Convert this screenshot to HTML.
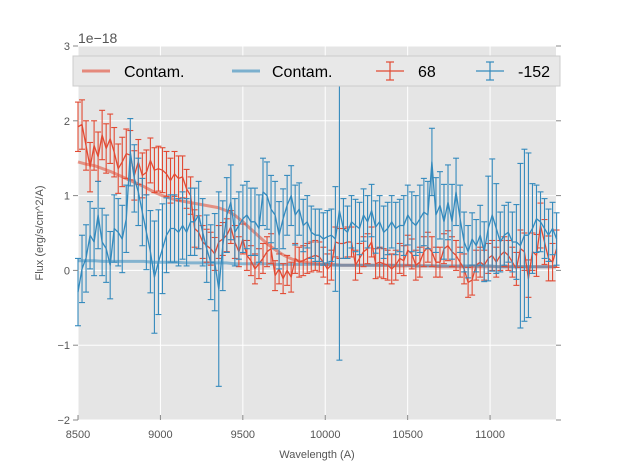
<!DOCTYPE html>
<html><head><meta charset="utf-8"><style>
body{margin:0;background:#fff;width:617px;height:467px;overflow:hidden;font-family:"Liberation Sans",sans-serif}
</style></head><body>
<svg id="chart" width="617" height="467" xmlns="http://www.w3.org/2000/svg">
<rect x="78" y="46" width="478" height="374" fill="#e5e5e5"/>
<g id="grid"></g><g id="marks"></g><g id="axes"></g>
<text x="78" y="43" font-size="14" fill="#555">1e−18</text>
<text x="317" y="458" font-size="11" fill="#555" text-anchor="middle">Wavelength (A)</text>
<text transform="translate(43,233) rotate(-90)" font-size="11" fill="#555" text-anchor="middle">Flux (erg/s/cm^2/A)</text>
<g>
<rect x="73" y="56" width="487" height="30" fill="#e8e8e8" stroke="#ccc"/>
<line x1="82" y1="71" x2="110" y2="71" stroke="#E24A33" stroke-opacity="0.6" stroke-width="3"/>
<text x="124" y="77" font-size="16" fill="#000">Contam.</text>
<line x1="232" y1="71" x2="260" y2="71" stroke="#348ABD" stroke-opacity="0.6" stroke-width="3"/>
<text x="272" y="77" font-size="16" fill="#000">Contam.</text>
<g stroke="#E24A33" stroke-width="1.2"><line x1="376" y1="71" x2="404" y2="71"/><line x1="390" y1="62" x2="390" y2="80"/><line x1="386" y1="62" x2="394" y2="62"/><line x1="386" y1="80" x2="394" y2="80"/></g>
<text x="418" y="77" font-size="16" fill="#000">68</text>
<g stroke="#348ABD" stroke-width="1.2"><line x1="476" y1="71" x2="504" y2="71"/><line x1="490" y1="62" x2="490" y2="80"/><line x1="486" y1="62" x2="494" y2="62"/><line x1="486" y1="80" x2="494" y2="80"/></g>
<text x="518" y="77" font-size="16" fill="#000">-152</text>
</g>
</svg>
<script>
const xStart=8500, xStep=24.4;
const xTicks=[8500,9000,9500,10000,10500,11000];
const yTicks=[-2,-1,0,1,2,3];
const redVals=[1.92,1.95,1.67,1.38,1.67,1.52,1.81,1.63,1.76,1.58,1.36,1.45,1.56,1.54,1.27,1.45,1.27,1.31,1.47,1.34,1.36,1.34,1.29,1.2,1.29,1.23,1.25,1.09,1.0,0.56,
0.51,0.38,0.33,0.29,0.22,0.38,0.42,0.47,0.58,0.38,0.25,0.42,0.2,0.13,0.02,0.09,0.16,0.25,0.29,-0.07,0.02,-0.11,0.0,-0.09,0.16,0.11,0.13,0.16,0.18,0.2,
0.18,0.11,0.02,0.07,0.38,0.36,0.36,0.38,0.38,0.07,0.16,0.25,0.29,0.38,0.09,0.11,0.09,0.07,0.02,0.07,0.16,0.13,0.27,0.22,0.07,0.11,0.25,0.31,0.25,0.11,
0.11,0.29,0.33,0.25,0.2,0.11,0.02,-0.16,-0.13,0.07,0.11,0.07,0.16,0.2,0.11,0.2,0.25,0.2,0.11,0.02,0.29,0.25,-0.11,0.25,0.2,0.6,0.38,0.16,0.11,0.29];
const redErr=[0.33,0.33,0.33,0.33,0.33,0.33,0.33,0.33,0.33,0.33,0.33,0.33,0.33,0.33,0.33,0.3,0.3,0.3,0.3,0.3,0.3,0.3,0.3,0.3,0.3,0.3,0.28,0.26,0.25,0.25,
0.22,0.22,0.22,0.22,0.22,0.22,0.22,0.22,0.22,0.22,0.2,0.2,0.2,0.2,0.2,0.2,0.2,0.2,0.2,0.2,0.2,0.2,0.2,0.2,0.2,0.2,0.2,0.2,0.2,0.2,
0.2,0.2,0.2,0.2,0.2,0.2,0.2,0.2,0.2,0.2,0.2,0.2,0.2,0.2,0.2,0.2,0.2,0.2,0.2,0.2,0.2,0.2,0.2,0.2,0.2,0.2,0.2,0.2,0.2,0.2,
0.2,0.2,0.2,0.2,0.2,0.2,0.2,0.2,0.2,0.2,0.2,0.2,0.2,0.2,0.2,0.2,0.2,0.2,0.2,0.22,0.25,0.25,0.25,0.25,0.28,0.3,0.3,0.3,0.25,0.25];
const blueVals=[-0.29,0.02,0.16,0.47,0.38,0.74,0.38,0.29,0.07,0.56,0.51,0.42,0.69,1.58,1.23,1.05,0.78,0.51,0.25,-0.09,0.11,0.29,0.47,0.56,0.56,0.51,0.6,0.51,0.65,0.65,
0.74,0.51,0.29,0.11,0.11,-0.25,0.33,0.74,0.91,0.51,0.6,0.69,0.74,0.65,0.65,0.56,1.05,1.0,0.82,0.74,0.47,0.69,0.87,1.0,0.74,0.82,0.6,0.65,0.51,0.47,
0.47,0.42,0.45,0.47,0.42,0.8,0.56,0.51,0.65,0.6,0.56,0.74,0.65,0.8,0.58,0.65,0.51,0.56,0.65,0.56,0.6,0.6,0.74,0.65,0.6,0.69,0.78,0.74,1.45,0.74,
0.87,0.65,0.91,0.65,1.05,0.69,0.38,0.25,0.42,0.33,0.47,0.25,0.56,0.74,0.56,0.38,0.47,0.51,0.38,0.38,0.33,0.47,0.47,0.56,0.69,0.65,0.56,0.47,0.56,0.42];
const blueErr=[0.45,0.45,0.45,0.45,0.45,0.45,0.45,0.45,0.45,0.45,0.45,0.45,0.45,0.45,0.45,0.45,0.45,0.5,0.55,0.75,0.7,0.6,0.5,0.45,0.45,0.45,0.45,0.45,0.45,0.45,
0.45,0.45,0.45,0.5,0.65,1.3,0.6,0.5,0.5,0.45,0.45,0.45,0.45,0.45,0.45,0.45,0.45,0.45,0.45,0.45,0.45,0.4,0.4,0.4,0.4,0.35,0.35,0.35,0.35,0.35,
0.35,0.35,0.35,0.35,0.7,2.0,0.4,0.35,0.35,0.35,0.35,0.35,0.35,0.35,0.35,0.35,0.35,0.35,0.35,0.35,0.35,0.4,0.4,0.4,0.4,0.45,0.45,0.45,0.45,0.5,
0.45,0.5,0.5,0.5,0.45,0.45,0.4,0.35,0.35,0.35,0.4,0.4,0.7,0.75,0.6,0.4,0.4,0.4,0.4,0.5,1.1,1.15,1.1,0.6,0.45,0.4,0.4,0.35,0.35,0.35];
const contamRed=[1.45,1.42,1.4,1.36,1.32,1.27,1.22,1.17,1.12,1.06,1.01,0.97,0.94,0.92,0.9,0.88,0.86,0.84,0.8,0.74,0.65,0.55,0.45,0.35,0.27,0.2,0.15,0.12,0.1,0.09,0.08,0.08,0.07,0.07,0.07,0.07,0.07,0.07,0.07,0.06,0.06,0.06,0.06,0.06,0.05,0.05,0.05,0.05,0.05,0.05,0.05,0.05,0.05,0.05,0.05,0.05,0.05,0.05,0.05];
const contamBlue=[0.13,0.13,0.13,0.12,0.12,0.12,0.12,0.12,0.12,0.11,0.11,0.11,0.11,0.1,0.1,0.1,0.1,0.1,0.1,0.09,0.09,0.09,0.09,0.09,0.08,0.08,0.08,0.08,0.08,0.08,0.08,0.07,0.07,0.07,0.07,0.07,0.07,0.07,0.07,0.07,0.07,0.06,0.06,0.06,0.06,0.06,0.06,0.06,0.06,0.06,0.06,0.05,0.05,0.05,0.05,0.05,0.05,0.05,0.05];
const contamStep=50;
const NS="http://www.w3.org/2000/svg";
const X0=78,X1=556,Y0=420,Y1=46,xMin=8500,xMax=11400,yMin=-2,yMax=3;
const sx=v=>X0+(v-xMin)/(xMax-xMin)*(X1-X0);
const sy=v=>Y0-(v-yMin)/(yMax-yMin)*(Y0-Y1);
function mk(tag,attrs,parent){const e=document.createElementNS(NS,tag);for(const k in attrs)e.setAttribute(k,attrs[k]);parent.appendChild(e);return e;}
const grid=document.getElementById('grid'),marks=document.getElementById('marks'),axes=document.getElementById('axes');
xTicks.forEach(t=>{
 const g=mk('line',{x1:sx(t),x2:sx(t),y1:Y1,y2:Y0,stroke:'#fff','stroke-width':1},grid);
 
 
 const l=mk('text',{x:sx(t),y:Y0+18,'font-size':11,fill:'#555','text-anchor':'middle'},axes);l.textContent=t;
 
 
 mk('line',{x1:sx(t),x2:sx(t),y1:Y0,y2:Y0-5,stroke:'#888'},axes);
});
yTicks.forEach(t=>{
 const g=mk('line',{x1:X0,x2:X1,y1:sy(t),y2:sy(t),stroke:'#fff','stroke-width':1},grid);
 
 
 const l=mk('text',{x:X0-8,y:sy(t)+4,'font-size':11,fill:'#555','text-anchor':'end'},axes);l.textContent=t<0?'\u2212'+(-t):t;
 
 
 mk('line',{x1:X0-5,x2:X0,y1:sy(t),y2:sy(t),stroke:'#888'},axes);
 mk('line',{x1:X1,x2:X1+5,y1:sy(t),y2:sy(t),stroke:'#888'},axes);
});
function line(vals,step,color,w,op,name){
 const pts=vals.map((v,i)=>sx(xStart+i*step).toFixed(1)+','+sy(v).toFixed(1)).join(' ');
 const p=mk('polyline',{points:pts,fill:'none',stroke:color,'stroke-width':w,'stroke-opacity':op,'stroke-linejoin':'round'},marks);
 
 
}
function errs(vals,err,color,name){
 const n=Math.min(vals.length,err.length);
 const g=mk('g',{stroke:color,'stroke-width':1.1},marks);
 
 
 for(let i=0;i<n;i++){
  const x=sx(xStart+i*xStep),a=sy(vals[i]+err[i]),b=sy(vals[i]-err[i]);
  mk('line',{x1:x,x2:x,y1:Math.max(a,Y1),y2:Math.min(b,Y0)},g);
  if(a>=Y1)mk('line',{x1:x-3,x2:x+3,y1:a,y2:a},g);
  if(b<=Y0)mk('line',{x1:x-3,x2:x+3,y1:b,y2:b},g);
 }
 line(vals.slice(0,n),xStep,color,1.3,1,name+'-line');
}
line(contamRed,contamStep,'#E24A33',3,0.55,'contam-red-line');
line(contamBlue,contamStep,'#348ABD',3,0.55,'contam-blue-line');
errs(redVals,redErr,'#E24A33','series-68');
errs(blueVals,blueErr,'#348ABD','series-minus-152');
</script>
</body></html>
